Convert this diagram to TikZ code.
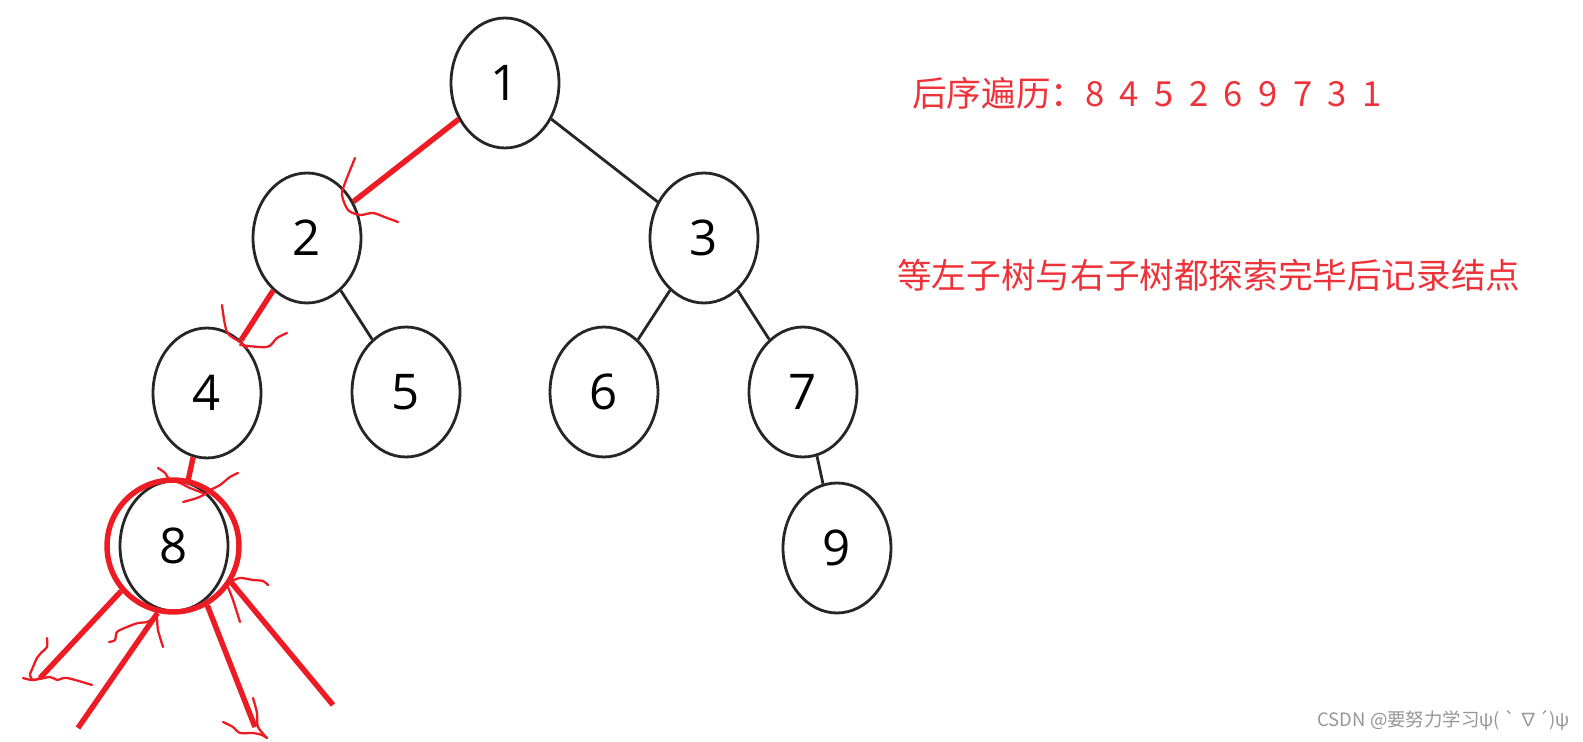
\documentclass[tikz,border=0pt]{standalone}
\usepackage{fontspec}
\newfontfamily\numfont{Open Sans}
\newfontfamily\cjkfont{Noto Sans CJK SC}
\usetikzlibrary{shapes.geometric}
\definecolor{inkred}{RGB}{237,28,36}
\definecolor{textred}{RGB}{238,50,58}
\definecolor{markgray}{RGB}{150,150,150}
\tikzset{
  % tree nodes and edges
  treenode/.style = {ellipse, draw=black!85, line width=1.6pt, minimum width=2.16cm,
                     minimum height=2.6cm, inner sep=0pt, font=\numfont\fontsize{28}{28}\selectfont},
  treeedge/.style = {draw=black!85, line width=1.6pt},
  % red hand marks
  redpath/.style  = {draw=inkred, line width=3.1pt},
  redring/.style  = {circle, draw=inkred, line width=3.1pt, minimum size=2.64cm, inner sep=0pt},
  scribble/.style = {draw=inkred, line width=1.3pt, line cap=round, line join=round},
  % texts
  note/.style     = {font=\cjkfont\fontsize{19.7}{22}\selectfont, text=textred, inner sep=0pt, anchor=west},
  watermark/.style= {font=\cjkfont\fontsize{10.5}{12}\selectfont, text=markgray, inner sep=0pt, anchor=east},
}
\begin{document}
\begin{tikzpicture}[x=0.02cm, y=-0.02cm]
  \useasboundingbox (0,0) rectangle (1583,742);
  % tree
  \node[treenode] (n1) at (505,83)  {1};
  \node[treenode] (n2) at (307,238) {2};
  \node[treenode] (n3) at (704,238) {3};
  \node[treenode] (n4) at (207,393) {4};
  \node[treenode] (n5) at (406,392) {5};
  \node[treenode] (n6) at (604,392) {6};
  \node[treenode] (n7) at (803,392) {7};
  \node[treenode] (n8) at (174,546) {8};
  \node[treenode] (n9) at (837,548) {9};
  \draw[treeedge] (n1) -- (n3);
  \draw[treeedge] (n2) -- (n5);
  \draw[treeedge] (n3) -- (n6);
  \draw[treeedge] (n3) -- (n7);
  \draw[treeedge] (n7) -- (n9);
  % red path down the left side
  \draw[redpath] (n1) -- (n2);
  \draw[redpath] (n2) -- (n4);
  \draw[redpath] (n4) -- (n8);
  \draw[scribble] plot[smooth] coordinates {(355,158) (345,183) (342,195) (348,210) (360,215) (373,213) (387,218) (398,222)};
  \draw[scribble] plot[smooth] coordinates {(222,305) (227,332) (240,342) (247,348)};
  \draw[scribble] plot[smooth] coordinates {(240,345) (267,347) (277,338) (287,333)};
  \draw[scribble] plot[smooth] coordinates {(158,468) (165,473) (170,480) (180,483) (190,488) (203,493)};
  \draw[scribble] plot[smooth] coordinates {(238,473) (230,477) (220,485) (210,490)};
  \draw[scribble] plot[smooth] coordinates {(183,502) (197,498) (207,493)};
  % ring around 8 and its visits
  \node[redring] (ring) at (173,546) {};
  \coordinate (ta) at (40,678);
  \coordinate (tb) at (78,728);
  \coordinate (tc) at (255,727);
  \coordinate (td) at (333,705);
  \draw[redpath] (ring.221) -- (ta);
  \draw[redpath] (tb) -- (ring.257);
  \draw[redpath] (ring.300) -- (tc);
  \draw[redpath] (td) -- (ring.328);
  \draw[scribble] plot[smooth] coordinates {(47,638) (47,647) (42,652) (37,658) (33,667) (30,675) (33,680) (40,678)};
  \draw[scribble] plot[smooth] coordinates {(23,678) (33,680) (50,677) (57,680) (67,678) (92,685)};
  \draw[scribble] plot[smooth] coordinates {(109,642) (115,640) (117,632) (127,627) (138,623) (147,622) (155,617)};
  \draw[scribble] plot[smooth] coordinates {(157,617) (158,630) (163,647)};
  \draw[scribble] plot[smooth] coordinates {(253,698) (257,713) (258,727) (267,738)};
  \draw[scribble] plot[smooth] coordinates {(223,722) (233,727) (240,733) (253,733) (262,735) (267,738)};
  \draw[scribble] plot[smooth] coordinates {(230,582) (240,578) (253,580) (263,581) (268,585)};
  \draw[scribble] plot[smooth] coordinates {(228,587) (233,600) (240,622)};
  % notes
  \node[note] (order) at (912,93) {后序遍历：{\spaceskip=0.308cm 8 4 5 2 6 9 7 3 1}};
  \node[note] (rule) at (897,275) {等左子树与右子树都探索完毕后记录结点};
  \node[watermark] (mark) at (1570,720) {CSDN @要努力学习ψ( ` ∇´)ψ};
\end{tikzpicture}
\end{document}
